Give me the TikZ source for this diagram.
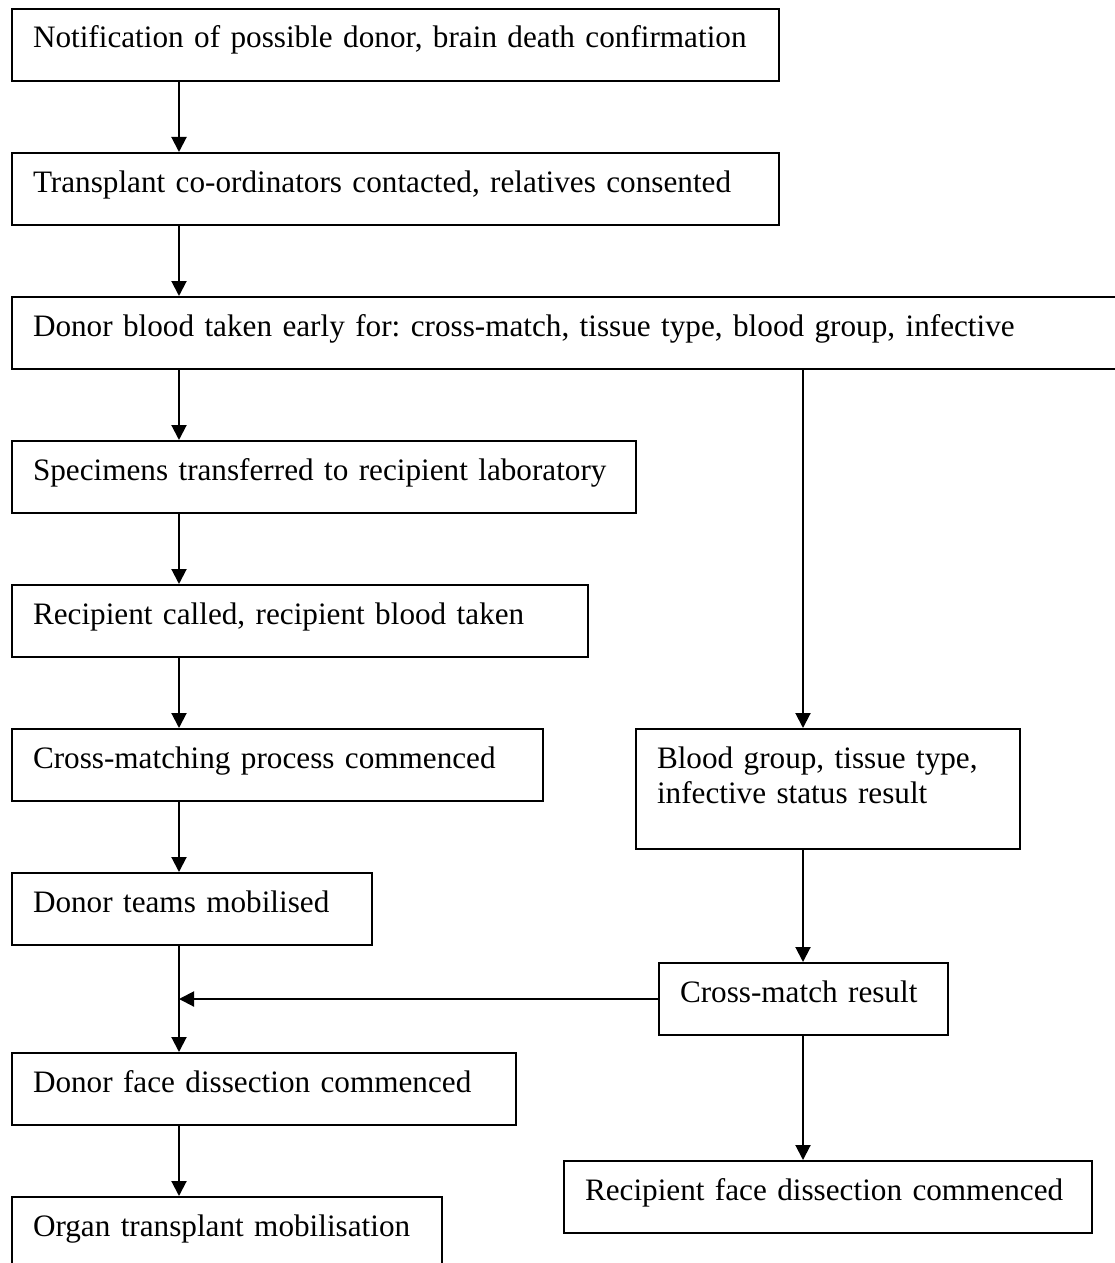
\documentclass[tikz,border=0pt]{standalone}
\usepackage{fontspec}
\setmainfont{Liberation Serif}
\usetikzlibrary{arrows.meta}
\frenchspacing

\tikzset{
  stepbox/.style={draw, line width=1pt, anchor=north west, align=left,
    inner xsep=10.5pt, inner ysep=0pt, text height=19.5pt, text depth=16.5pt},
  flow/.style={line width=1pt, -{Triangle[length=7.5pt,width=7.5pt]}}
}

\begin{document}
\begin{tikzpicture}[x=0.5pt, y=-0.5pt, font=\fontsize{15.6}{17.5}\selectfont]
      \useasboundingbox (0, 0) rectangle (1114, 1263);
      \coordinate (spine) at (179, 0);
      \coordinate (rspine) at (803, 0);

      \node[stepbox, text width=362.5pt] (notify) at (11, 8) {Notification of possible donor, brain death confirmation};
      \node[stepbox, text width=362.5pt] (consent) at (11, 152) {Transplant co-ordinators contacted, relatives consented};
      \node[stepbox, text width=538.5pt] (bloodtaken) at (11, 296) {Donor blood taken early for: cross-match, tissue type, blood group, infective};
      \node[stepbox, text width=291pt] (specimens) at (11, 440) {Specimens transferred to recipient laboratory};
      \node[stepbox, text width=267pt] (called) at (11, 584) {Recipient called, recipient blood taken};
      \node[stepbox, text width=244.5pt] (crossproc) at (11, 728) {Cross-matching process commenced};
      \node[stepbox, text width=159pt] (teams) at (11, 872) {Donor teams mobilised};
      \node[stepbox, text width=231pt] (dissect) at (11, 1052) {Donor face dissection commenced};
      \node[stepbox, text width=194pt] (organ) at (11, 1196) {Organ transplant mobilisation};

      \node[stepbox, text width=171pt, text depth=40.5pt] (results) at (635, 728) {Blood group, tissue type,\\infective status result};
      \node[stepbox, text width=123.5pt] (xmatch) at (658, 962) {Cross-match result};
      \node[stepbox, text width=243pt] (recipient) at (563, 1160) {Recipient face dissection commenced};

      \draw[flow] (spine |- notify.south) -- (spine |- consent.north);
      \draw[flow] (spine |- consent.south) -- (spine |- bloodtaken.north);
      \draw[flow] (spine |- bloodtaken.south) -- (spine |- specimens.north);
      \draw[flow] (spine |- specimens.south) -- (spine |- called.north);
      \draw[flow] (spine |- called.south) -- (spine |- crossproc.north);
      \draw[flow] (spine |- crossproc.south) -- (spine |- teams.north);
      \draw[flow] (spine |- teams.south) -- (spine |- dissect.north);
      \draw[flow] (spine |- dissect.south) -- (spine |- organ.north);

      \draw[flow] (rspine |- bloodtaken.south) -- (rspine |- results.north);
      \draw[flow] (rspine |- results.south) -- (rspine |- xmatch.north);
      \draw[flow] (rspine |- xmatch.south) -- (rspine |- recipient.north);
      \draw[flow] (xmatch.west) -- (spine |- xmatch.west);
\end{tikzpicture}
\end{document}
